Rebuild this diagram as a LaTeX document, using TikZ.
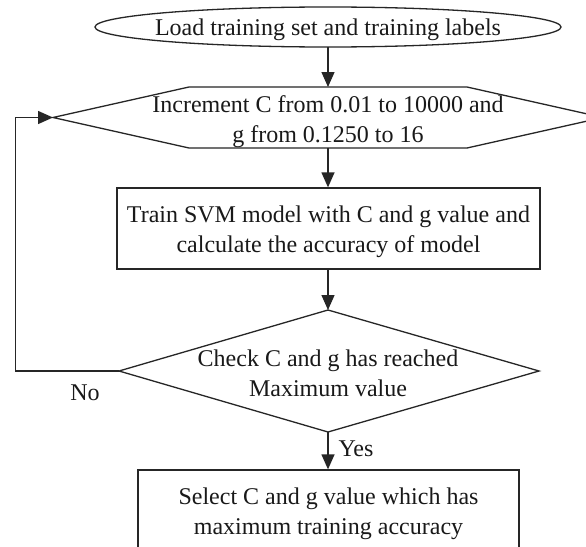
\documentclass[tikz,border=0pt]{standalone}
\usepackage{fontspec}
\setmainfont{Liberation Serif}
\usetikzlibrary{arrows.meta}
\begin{document}
\begin{tikzpicture}[x=1pt,y=-1pt,
  every node/.style={font=\fontsize{24}{30}\selectfont, text=black!90, inner sep=0pt},
  ln/.style={line width=1.3pt, draw=black!85},
  arr/.style={ln, -{Triangle[length=15pt,width=13pt]}},
  proc/.style={ln, rectangle, minimum height=81pt},
  txt/.style={align=center}
]
\useasboundingbox (0,0) rectangle (586,546);
\clip (0,0) rectangle (586,546);
\fill[white] (0,0) rectangle (586,546);

% start ellipse
\draw[ln] (328,27) ellipse [x radius=233, y radius=20];
\node (load) at (328,30) {Load training set and training labels};
\coordinate (loadS) at (328,47);

% hexagon loop
\draw[ln] (53,117.5) -- (189,87) -- (467,87) -- (603,117.5) -- (467,148) -- (189,148) -- cycle;
\node[txt] (inc) at (328,121.5) {Increment C from 0.01 to 10000 and\\g from 0.1250 to 16};
\coordinate (incN) at (328,87);
\coordinate (incS) at (328,148);
\coordinate (incW) at (53,117.5);

% training box
\node[proc, minimum width=423pt] (train) at (328.5,228.5) {};
\node[txt] (trainT) at (328.5,231.5) {Train SVM model with C and g value and\\calculate the accuracy of model};

% decision
\draw[ln] (328,310) -- (539,371) -- (328,432) -- (119,371) -- cycle;
\node[txt] (check) at (328,373.5) {Check C and g has reached\\Maximum value};
\coordinate (chkN) at (328,310);
\coordinate (chkS) at (328,432);
\coordinate (chkW) at (119,371);
\coordinate (loopB) at (15.5,371);
\coordinate (loopT) at (15.5,117.5);

% result box
\node[proc, minimum width=381pt] (select) at (328.5,510.5) {};
\node[txt] (selectT) at (328.5,513.5) {Select C and g value which has\\maximum training accuracy};

% connectors
\draw[arr] (loadS) -- (incN);
\draw[arr] (incS) -- (train.north -| incS);
\draw[arr] (train.south -| chkN) -- (chkN);
\draw[arr] (chkS) -- (select.north -| chkS);
\draw[arr] (chkW) -- (loopB) -- (loopT) -- (incW);

% labels
\node (no) at (85,393) {No};
\node (yes) at (356,449) {Yes};
\end{tikzpicture}
\end{document}
